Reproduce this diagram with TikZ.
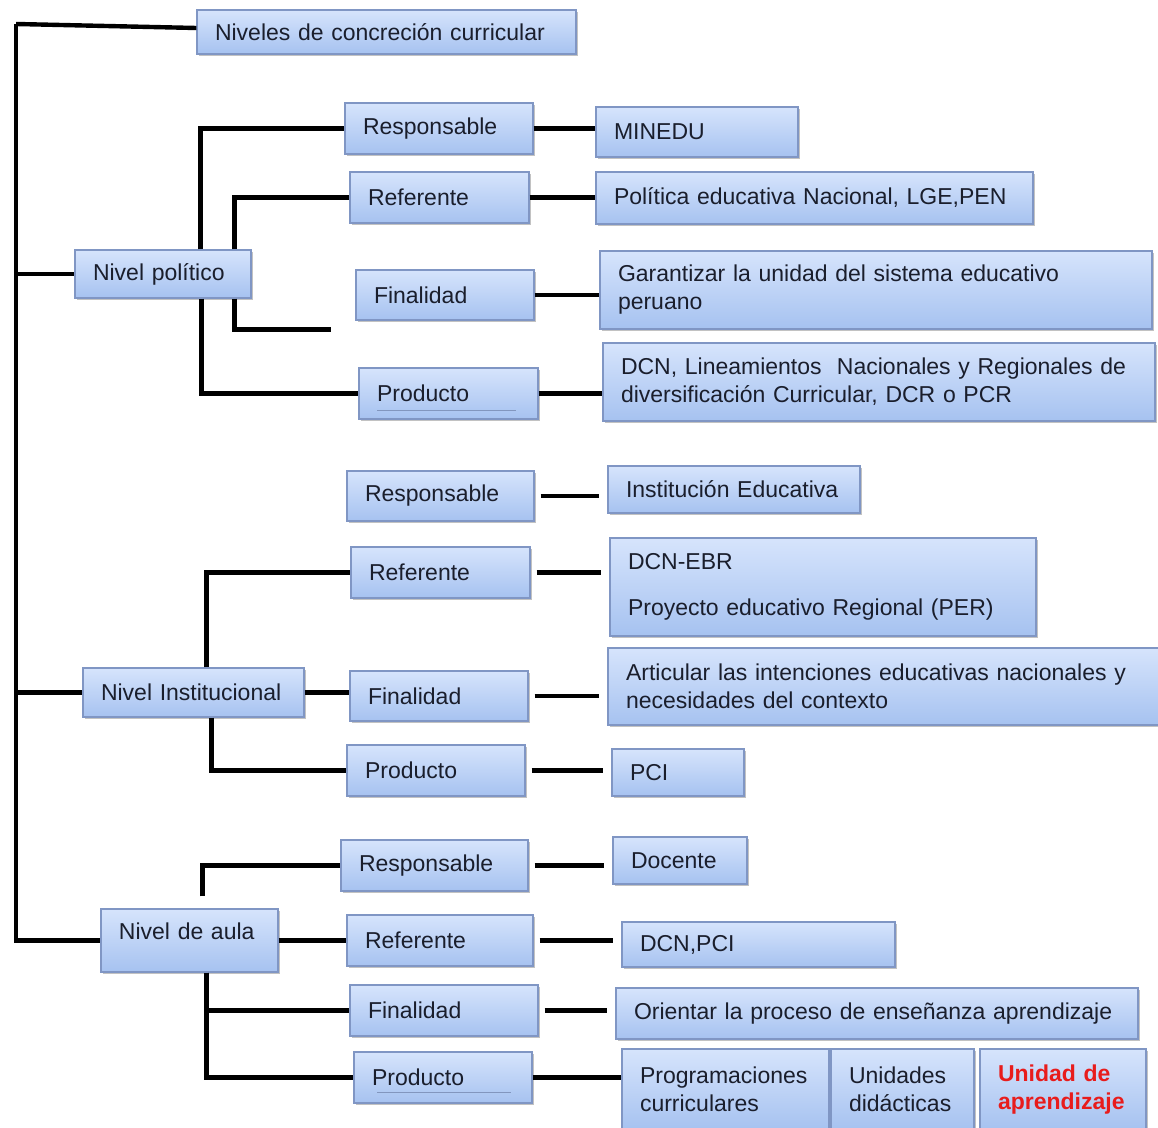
\documentclass[tikz,border=0pt]{standalone}
\usepackage{fontspec}
\setmainfont{Liberation Sans}
\usetikzlibrary{shadows}
\definecolor{boxtop}{RGB}{214,228,252}
\definecolor{boxbot}{RGB}{166,194,240}
\definecolor{boxline}{RGB}{128,150,196}
\definecolor{boxtext}{RGB}{26,30,44}
\definecolor{aprred}{RGB}{232,28,28}
\definecolor{ulinecol}{RGB}{130,150,190}

\begin{document}
\begin{tikzpicture}[x=0.5pt, y=-0.5pt,
  block/.style={rectangle, draw=boxline, line width=0.6pt,
    top color=boxtop, bottom color=boxbot,
    drop shadow={shadow xshift=0.8pt, shadow yshift=-1.2pt, opacity=0.4, fill=black!60},
    align=left, inner xsep=9pt, inner ysep=2pt,
    font=\fontsize{11.5}{14}\selectfont, text=boxtext},
  link/.style={line width=2.2pt, black},
  gap/.style={shorten <=3pt, shorten >=4pt},
  uline/.style={line width=0.6pt, ulinecol}]
  \useasboundingbox (0,0) rectangle (1158,1128);

  \node[block, text width=171.5pt, minimum height=22pt] (title) at (386.5,32) {Niveles de concreción curricular};

  \node[block, text width=70pt, minimum height=24pt] (npol) at (163,274) {Nivel político};
  \node[block, text width=76pt, minimum height=25.5pt] (presp) at (439,128.5) {Responsable};
  \node[block, text width=71.5pt, minimum height=25.5pt] (pref) at (439.5,197.5) {Referente};
  \node[block, text width=71pt, minimum height=25pt] (pfin) at (445,295) {Finalidad};
  \node[block, text width=71.5pt, minimum height=25.5pt] (pprod) at (448.5,393.5) {Producto};
  \node[block, text width=83pt, minimum height=25pt] (minedu) at (697,132) {MINEDU};
  \node[block, text width=200.5pt, minimum height=26pt] (politica) at (814.5,198) {Política educativa Nacional, LGE,PEN};
  \node[block, text width=258pt, minimum height=39pt] (garant) at (876,290) {Garantizar la unidad del sistema educativo\\peruano};
  \node[block, text width=258pt, minimum height=39pt] (dcnlin) at (879,382) {DCN, Lineamientos~ Nacionales y Regionales de\\diversificación Curricular, DCR o PCR};

  \node[block, text width=92.5pt, minimum height=24.5pt] (ninst) at (193.5,692.5) {Nivel Institucional};
  \node[block, text width=75.5pt, minimum height=25pt] (iresp) at (440.5,496) {Responsable};
  \node[block, text width=71.5pt, minimum height=25.5pt] (iref) at (440.5,572.5) {Referente};
  \node[block, text width=71pt, minimum height=25pt] (ifin) at (439,696) {Finalidad};
  \node[block, text width=71pt, minimum height=25.5pt] (iprod) at (436,770.5) {Producto};
  \node[block, text width=108pt, minimum height=23.5pt] (ieduc) at (734,489.5) {Institución Educativa};
  \node[block, text width=195pt, minimum height=49pt] (dcnebr) at (823,587) {DCN-EBR\\[9pt]Proyecto educativo Regional (PER)};
  \node[block, text width=258pt, minimum height=38.5pt] (articular) at (884,686.5) {Articular las intenciones educativas nacionales y\\necesidades del contexto};
  \node[block, text width=48pt, minimum height=23.5pt] (pci) at (678,772.5) {PCI};

  \node[block, text width=70.5pt, minimum height=31.5pt, text depth=9pt] (naula) at (189.5,940.5) {Nivel de aula};
  \node[block, text width=75.5pt, minimum height=25.5pt] (aresp) at (434.5,865.5) {Responsable};
  \node[block, text width=75pt, minimum height=25.5pt] (aref) at (440,940.5) {Referente};
  \node[block, text width=76pt, minimum height=25.5pt] (afin) at (444,1010.5) {Finalidad};
  \node[block, text width=71pt, minimum height=25.5pt] (aprod) at (443,1077.5) {Producto};
  \node[block, text width=49pt, minimum height=23.5pt] (docente) at (680,860.5) {Docente};
  \node[block, text width=118.5pt, minimum height=22.5pt] (dcnpci) at (758.5,944.5) {DCN,PCI};
  \node[block, text width=243pt, minimum height=25.5pt] (orientar) at (877,1013.5) {Orientar la proceso de enseñanza aprendizaje};
  \node[block, text width=85.5pt, minimum height=40.5pt] (program) at (725.5,1089.5) {Programaciones\\curriculares};
  \node[block, text width=53.5pt, minimum height=40.5pt] (unidades) at (902.5,1089.5) {Unidades\\didácticas};
  \node[block, text width=65pt, minimum height=40.5pt, text=aprred,
    font=\fontsize{11.5}{14}\selectfont\bfseries] (unidad) at (1063,1089.5) {Unidad de\\aprendizaje};

  \coordinate (top) at (16,24);
  \draw[link] (top) -- ([yshift=2pt]title.west);
  \draw[link] (top) |- (naula.west);
  \draw[link] (top |- npol.west) -- (npol.west);
  \draw[link] (top |- ninst.west) -- (ninst.west);

  \draw[link] ([xshift=63pt]npol.north west) |- (presp.west);
  \draw[link] ([xshift=80pt]npol.north west) |- (pref.west);
  \coordinate (pfinend) at ([xshift=-12pt,yshift=-4.5pt]pfin.south west);
  \draw[link] ([xshift=80pt]npol.south west) |- (pfinend);
  \draw[link] ([xshift=63.5pt]npol.south west) |- (pprod.west);
  \draw[link] (presp.east) -- (presp.east -| minedu.west);
  \draw[link] (pref.east) -- (pref.east -| politica.west);
  \draw[link] (pfin.east) -- (pfin.east -| garant.west);
  \draw[link] (pprod.east) -- (pprod.east -| dcnlin.west);
  \draw[uline] ([xshift=9.5pt,yshift=4.5pt]pprod.south west) -- ([xshift=-11.5pt,yshift=4.5pt]pprod.south east);

  \draw[link] ([xshift=62pt]ninst.north west) |- (iref.west);
  \draw[link] (ninst.east) -- (ninst.east -| ifin.west);
  \draw[link] ([xshift=64.5pt]ninst.south west) |- (iprod.west);
  \draw[link, gap] (iresp.east) -- (iresp.east -| ieduc.west);
  \draw[link, gap] (iref.east) -- (iref.east -| dcnebr.west);
  \draw[link, gap] (ifin.east) -- (ifin.east -| articular.west);
  \draw[link, gap] (iprod.east) -- (iprod.east -| pci.west);

  \draw[link] ([xshift=51pt, yshift=6pt]naula.north west) |- (aresp.west);
  \draw[link] (naula.east) -- (aref.west);
  \draw[link] ([xshift=53pt]naula.south west) |- (afin.west);
  \draw[link] ([xshift=53pt]naula.south west) |- (aprod.west);
  \draw[link, gap] (aresp.east) -- (aresp.east -| docente.west);
  \draw[link, gap] (aref.east) -- (aref.east -| dcnpci.west);
  \draw[link, gap] (afin.east) -- (afin.east -| orientar.west);
  \draw[link] (aprod.east) -- (aprod.east -| program.west);
  \draw[uline] ([xshift=12pt,yshift=5.5pt]aprod.south west) -- ([xshift=-11pt,yshift=5.5pt]aprod.south east);
\end{tikzpicture}
\end{document}
